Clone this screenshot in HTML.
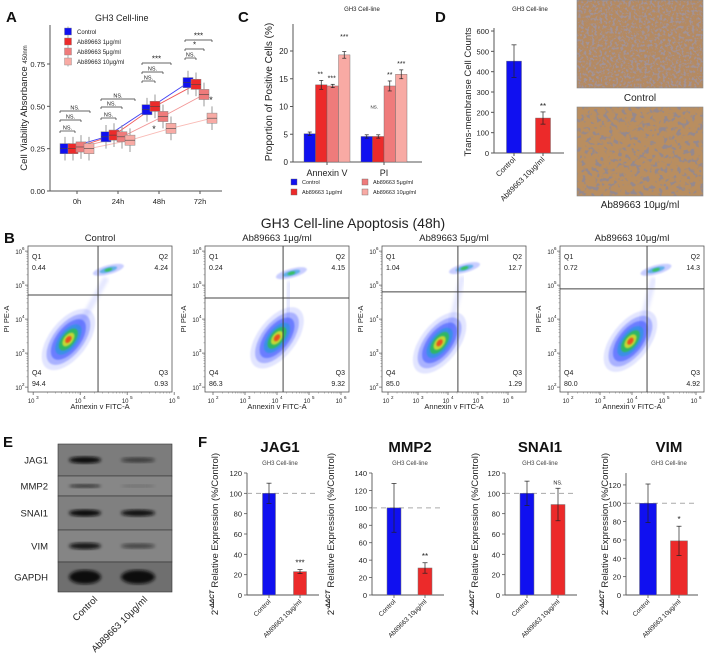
<!DOCTYPE html>
<html><head><meta charset="utf-8">
<style>
html,body{margin:0;padding:0;background:#fff;}
svg{display:block;font-family:"Liberation Sans",sans-serif;}
</style></head>
<body>
<svg id="fig" width="705" height="657" viewBox="0 0 705 657" xmlns="http://www.w3.org/2000/svg">
<defs>
<filter id="speck1" x="0" y="0" width="100%" height="100%">
<feTurbulence type="fractalNoise" baseFrequency="0.38" numOctaves="2" seed="3"/>
<feColorMatrix type="matrix" values="0 0 0 0 0.36  0 0 0 0 0.29  0 0 0 0 0.31  -6 0 0 0 3.1"/>
</filter>
<filter id="speck2" x="0" y="0" width="100%" height="100%">
<feTurbulence type="fractalNoise" baseFrequency="0.22" numOctaves="2" seed="7"/>
<feColorMatrix type="matrix" values="0 0 0 0 0.3  0 0 0 0 0.25  0 0 0 0 0.27  -7 0 0 0 3.3"/>
</filter>
<filter id="blur2"><feGaussianBlur stdDeviation="1.6"/></filter>
<filter id="blur1"><feGaussianBlur stdDeviation="0.8"/></filter>
</defs>
</svg>
<script>
// ---------- DATA ----------
const A_cats=['0h','24h','48h','72h'];
const A_series=['Control','Ab89663 1μg/ml','Ab89663 5μg/ml','Ab89663 10μg/ml'];
const A_ctrl=[0.25,0.32,0.48,0.64];
const A_ab1=[0.25,0.33,0.50,0.63];
const A_ab5=[0.26,0.32,0.44,0.57];
const A_ab10=[0.25,0.30,0.37,0.43];
const A_ticks=[0,0.25,0.5,0.75];
const A_tickLabels=['0.00','0.25','0.50','0.75'];

const C_groups=['Annexin V','PI'];
const C_ctrl=[5.1,4.6];
const C_ab1=[13.9,4.6];
const C_ab5=[13.7,13.7];
const C_ab10=[19.3,15.8];
const C_ctrlErr=[0.3,0.3];
const C_ab1Err=[0.8,0.3];
const C_ab5Err=[0.3,0.9];
const C_ab10Err=[0.6,0.8];
const C_ticks=[0,5,10,15,20];

const D_cats=['Control','Ab89663 10μg/ml'];
const D_vals=[452,172];
const D_errs=[80,30];
const D_ticks=[0,100,200,300,400,500,600];

const B_titles=['Control','Ab89663 1μg/ml','Ab89663 5μg/ml','Ab89663 10μg/ml'];
const B_q1=['0.44','0.24','1.04','0.72'];
const B_q2=['4.24','4.15','12.7','14.3'];
const B_q3=['0.93','9.32','1.29','4.92'];
const B_q4=['94.4','86.3','85.0','80.0'];
const B_gateX=[4.38,4.19,4.33,4.47];
const B_gateY=[4.71,4.62,4.80,4.89];
const B_mainX=[3.75,4.0,3.72,3.95];
const B_mainY=[3.4,3.45,3.3,3.35];
const B_q2X=[4.6,4.45,4.55,4.75];
const B_q2Y=[5.45,5.35,5.5,5.45];

const E_proteins=['JAG1','MMP2','SNAI1','VIM','GAPDH'];
const E_ctrlInt=[1.0,0.7,1.0,0.9,1.0];
const E_treatInt=[0.55,0.2,0.95,0.5,1.0];

const F_genes=['JAG1','MMP2','SNAI1','VIM'];
const F_ctrl=[100,100,100,100];
const F_ctrlErr=[10,28,12,21];
const F_treat=[23,31,89,59];
const F_treatErr=[2,6,16,16];
const F_sig=['***','**','NS.','*'];
const F_yTop=[120,140,120,133];

// ---------- HELPERS ----------
const NS='http://www.w3.org/2000/svg';
const svg=document.getElementById('fig');
function mk(tag,attrs,parent){const e=document.createElementNS(NS,tag);for(const k in attrs)e.setAttribute(k,attrs[k]);(parent||svg).appendChild(e);return e;}
function tx(parent,x,y,s,size,opts){const e=mk('text',Object.assign({x:x,y:y,'font-size':size,fill:'#222'},opts||{}),parent);e.textContent=s;return e;}
function grp(name,parent){const g=mk('g',{},parent);return g;}
function line(p,x1,y1,x2,y2,st,w,extra){return mk('line',Object.assign({x1:x1,y1:y1,x2:x2,y2:y2,stroke:st||'#333','stroke-width':w||1},extra||{}),p);}
const COLS=['#1010f0','#ec2a2a','#ef7b7b','#f8aaa4'];

[['A',6,22],['C',238,22],['D',435,22],['B',4,243],['E',3,447],['F',198,447]].forEach(function(l){
  const t=tx(svg,l[1],l[2],l[0],15,{'font-weight':'bold',fill:'#111'});
  
  
});

// ---------- PANEL A ----------
(function(){
  const g=grp('panel-a-viability-chart');
  const yA=function(v){return 191-v/0.75*127;};
  const xA=function(i){return 77+i*41;};
  const offs=[-12,-4,4,12];
  const series=[A_ctrl,A_ab1,A_ab5,A_ab10];
  tx(g,95,21,'GH3 Cell-line',9,{'text-anchor':'start'});
  line(g,50,25,50,191,'#555',1);
  line(g,50,191,222,191,'#555',1);
  A_ticks.forEach(function(v,i){
    line(g,47,yA(v),50,yA(v),'#555',1);
    const t=tx(g,45,yA(v)+3,A_tickLabels[i],7.5,{'text-anchor':'end'});
    
  });
  A_cats.forEach(function(c,i){
    line(g,xA(i),191,xA(i),194,'#555',1);
    const t=tx(g,xA(i),204,c,7.5,{'text-anchor':'middle'});
    
  });
  const yl=tx(g,0,0,'Cell Viability Absorbance ',9.5,{transform:'translate(27,108) rotate(-90)','text-anchor':'middle'});
  const sub=mk('tspan',{'font-size':6,dy:0},yl);sub.textContent='450nm';
  
  series.forEach(function(s,k){
    const pts=s.map(function(v,i){return (xA(i)+offs[k])+','+yA(v);}).join(' ');
    const pl=mk('polyline',{points:pts,fill:'none',stroke:COLS[k],'stroke-width':0.9,opacity:0.8},g);
    
  });
  series.forEach(function(s,k){
    s.forEach(function(v,i){
      const cx=xA(i)+offs[k];
      line(g,cx,yA(v-0.07),cx,yA(v+0.07),'#999',1);
      const r=mk('rect',{x:cx-5,y:yA(v+0.03),width:10,height:yA(v-0.03)-yA(v+0.03),fill:COLS[k],stroke:'#888','stroke-width':0.5},g);
      
      line(g,cx-5,yA(v),cx+5,yA(v),'#444',0.6);
    });
  });
  function br(x1,x2,y,lab){
    line(g,x1,y,x2,y,'#333',0.7);line(g,x1,y,x1,y+2,'#333',0.7);line(g,x2,y,x2,y+2,'#333',0.7);
    tx(g,(x1+x2)/2,y-1.5,lab,lab.indexOf('*')>=0?8:5.5,{'text-anchor':'middle'});
  }
  const c0=xA(0)-17;
  br(c0,xA(0)-2,131,'NS.');br(c0,xA(0)+4,120,'NS.');br(c0,xA(0)+13,111,'NS.');
  br(xA(1)-17,xA(1)-2,118,'NS.');br(xA(1)-17,xA(1)+4,107,'NS.');br(xA(1)-17,xA(1)+17,99,'NS.');
  br(xA(2)-17,xA(2)-4,81,'NS.');br(xA(2)-17,xA(2)+4,72,'NS.');br(xA(2)-17,xA(2)+12,63,'***');
  br(xA(3)-15,xA(3)-4,58,'NS.');br(xA(3)-15,xA(3)+4,49,'*');br(xA(3)-15,xA(3)+12,40,'***');
  tx(g,xA(2)-5,132,'*',9,{'text-anchor':'middle'});
  tx(g,xA(3)+11,103,'*',9,{'text-anchor':'middle'});
  const lg=grp('panel-a-legend',g);
  A_series.forEach(function(n,k){
    const y=31.5+k*10;
    line(lg,68,y-5,68,y+5,'#999',0.8);
    const r=mk('rect',{x:64.5,y:y-3.5,width:7,height:7,fill:COLS[k],stroke:'#888','stroke-width':0.4},lg);
    
    const t=tx(lg,77,y+2.3,n,6);
    
  });
})();

// ---------- PANEL C ----------
(function(){
  const g=grp('panel-c-apoptosis-bars');
  const yC=function(v){return 162-v*5.55;};
  const gx=[327,384];
  const bw=11.5;
  const vals=[C_ctrl,C_ab1,C_ab5,C_ab10];
  const errs=[C_ctrlErr,C_ab1Err,C_ab5Err,C_ab10Err];
  tx(g,362,11,'GH3 Cell-line',6,{'text-anchor':'middle'});
  line(g,293,24,293,162,'#555',1);
  line(g,293,162,422,162,'#555',1);
  C_ticks.forEach(function(v){
    line(g,290,yC(v),293,yC(v),'#555',1);
    const t=tx(g,288,yC(v)+3,String(v),8,{'text-anchor':'end'});
    
  });
  const yl=tx(g,0,0,'Proportion of Positive Cells (%)',10,{transform:'translate(272,92) rotate(-90)','text-anchor':'middle'});
  
  C_groups.forEach(function(n,i){
    line(g,gx[i],162,gx[i],165,'#555',1);
    const t=tx(g,gx[i],176,n,9,{'text-anchor':'middle'});
    
    vals.forEach(function(s,k){
      const x=gx[i]+(k-2)*bw;
      const r=mk('rect',{x:x,y:yC(s[i]),width:bw,height:yC(0)-yC(s[i]),fill:COLS[k],stroke:'#666','stroke-width':0.4},g);
      
      const cx=x+bw/2,e=errs[k][i];
      line(g,cx,yC(s[i]-e),cx,yC(s[i]+e),'#222',0.7);
      line(g,cx-2,yC(s[i]-e),cx+2,yC(s[i]-e),'#222',0.7);
      line(g,cx-2,yC(s[i]+e),cx+2,yC(s[i]+e),'#222',0.7);
    });
  });
  function star(x,v,s,sz){tx(g,x,yC(v)-4,s,sz||7,{'text-anchor':'middle'});}
  star(gx[0]-bw/2-1,C_ab1[0]+C_ab1Err[0],'**');
  star(gx[0]+bw/2-1,C_ab5[0]+C_ab5Err[0],'***');
  star(gx[0]+bw*1.5,C_ab10[0]+C_ab10Err[0]+1.5,'***');
  star(gx[1]-bw/2-4,C_ab1[1]+C_ab1Err[1]+4,'NS.',4.5);
  star(gx[1]+bw/2,C_ab5[1]+C_ab5Err[1],'**');
  star(gx[1]+bw*1.5,C_ab10[1]+C_ab10Err[1],'***');
  const lg=grp('panel-c-legend',g);
  const lp=[[291,184],[291,194],[362,184],[362,194]];
  A_series.forEach(function(n,k){
    const r=mk('rect',{x:lp[k][0],y:lp[k][1]-5,width:6,height:6,fill:COLS[k],stroke:'#666','stroke-width':0.4},lg);
    
    const t=tx(lg,lp[k][0]+11,lp[k][1],n,5.5);
    
  });
})();

// ---------- PANEL D ----------
(function(){
  const g=grp('panel-d-migration-bars');
  const yD=function(v){return 153-v*0.2033;};
  const bx=[514,543];
  tx(g,530,11,'GH3 Cell-line',6,{'text-anchor':'middle'});
  line(g,494,28,494,153,'#555',1);
  line(g,494,153,564,153,'#555',1);
  D_ticks.forEach(function(v){
    line(g,491,yD(v),494,yD(v),'#555',1);
    const t=tx(g,489,yD(v)+3,String(v),7.5,{'text-anchor':'end'});
    
  });
  const yl=tx(g,0,0,'Trans-membranse Cell Counts',9.5,{transform:'translate(471,92) rotate(-90)','text-anchor':'middle'});
  
  D_cats.forEach(function(n,i){
    const r=mk('rect',{x:bx[i]-7.5,y:yD(D_vals[i]),width:15,height:yD(0)-yD(D_vals[i]),fill:COLS[i],stroke:'#666','stroke-width':0.4},g);
    
    const e=D_errs[i];
    line(g,bx[i],yD(D_vals[i]-e),bx[i],yD(D_vals[i]+e),'#222',0.7);
    line(g,bx[i]-2.5,yD(D_vals[i]-e),bx[i]+2.5,yD(D_vals[i]-e),'#222',0.7);
    line(g,bx[i]-2.5,yD(D_vals[i]+e),bx[i]+2.5,yD(D_vals[i]+e),'#222',0.7);
    line(g,bx[i],153,bx[i],156,'#555',1);
    const t=tx(g,0,0,n,7.5,{transform:'translate('+(bx[i]+2)+',160) rotate(-45)','text-anchor':'end'});
    
  });
  tx(g,bx[1],yD(D_vals[1]+D_errs[1])-3,'**',8,{'text-anchor':'middle'});
  const p1=grp('photo-control',g);
  mk('rect',{x:577,y:0,width:126,height:88,fill:'#b48a62'},p1);
  mk('rect',{x:577,y:0,width:126,height:88,filter:'url(#speck1)'},p1);
  mk('rect',{x:577,y:0,width:126,height:88,fill:'none',stroke:'#888','stroke-width':0.6},p1);
  tx(g,640,101,'Control',10,{'text-anchor':'middle'});
  const p2=grp('photo-treatment',g);
  mk('rect',{x:577,y:107,width:126,height:89,fill:'#b98e60'},p2);
  mk('rect',{x:577,y:107,width:126,height:89,filter:'url(#speck2)'},p2);
  mk('rect',{x:577,y:107,width:126,height:89,fill:'none',stroke:'#888','stroke-width':0.6},p2);
  tx(g,640,208,'Ab89663 10μg/ml',10,{'text-anchor':'middle'});
})();

// ---------- PANEL B ----------
(function(){
  const g=grp('panel-b-flow-cytometry',svg);
  tx(g,353,228,'GH3 Cell-line Apoptosis (48h)',14,{'text-anchor':'middle'});
  const boxX=[28,205,382,560];
  const boxW=144, top=246, bot=392;
  const xLo=[2.89,1.75,1.8,1.75];
  const xPer=[47,32,30,32];
  const yHi=6.15, yPer=34;
  const xTick0=[3,2,2,2];
  B_titles.forEach(function(title,p){
    const pg=grp('flow-plot-'+p,g);
    const X=function(l){return boxX[p]+(l-xLo[p])*xPer[p];};
    const Y=function(l){return top+(yHi-l)*yPer;};
    tx(pg,boxX[p]+boxW/2,241,title,9.5,{'text-anchor':'middle'});
    const cx=X(B_mainX[p]),cy=Y(B_mainY[p]);
    const layers=[[36,19,'#4455ff',0.15],[30,15,'#2a3cff',0.3],[24,12,'#2040ff',0.45],[18,9,'#1a9bd8',0.6],[13,6.5,'#2bc43a',0.75],[8,4.5,'#e6e02a',0.8],[4,2.5,'#ee3a1c',0.85]];
    layers.forEach(function(L){
      const e=mk('ellipse',{cx:cx,cy:cy,rx:L[0],ry:L[1],fill:L[2],opacity:L[3],transform:'rotate(-52 '+cx+' '+cy+')',filter:'url(#blur1)'},pg);
      
    });
    const qx=X(B_q2X[p]),qy=Y(B_q2Y[p]);
    [[16,4.5,'#2a3cff',0.25],[9,2.5,'#1a9bd8',0.6],[4,1.6,'#2bc43a',0.8]].forEach(function(L){
      const e=mk('ellipse',{cx:qx,cy:qy,rx:L[0],ry:L[1],fill:L[2],opacity:L[3],transform:'rotate(-15 '+qx+' '+qy+')',filter:'url(#blur1)'},pg);
      
    });
    const tail=mk('line',{x1:cx+10,y1:cy-12,x2:qx-2,y2:qy+8,stroke:'#4a5cff','stroke-width':6,opacity:0.14,filter:'url(#blur2)'},pg);
    
    mk('rect',{x:boxX[p],y:top,width:boxW,height:bot-top,fill:'none',stroke:'#555','stroke-width':0.8},pg);
    const gv=line(pg,X(B_gateX[p]),top,X(B_gateX[p]),bot,'#444',1);
    
    const gh=line(pg,boxX[p],Y(B_gateY[p]),boxX[p]+boxW,Y(B_gateY[p]),'#444',1);
    
    const L=boxX[p]+4,R=boxX[p]+boxW-4;
    tx(pg,L,259,'Q1',7);tx(pg,L,270,B_q1[p],7);
    tx(pg,R,259,'Q2',7,{'text-anchor':'end'});tx(pg,R,270,B_q2[p],7,{'text-anchor':'end'});
    tx(pg,L,375,'Q4',7);tx(pg,L,386,B_q4[p],7);
    tx(pg,R,375,'Q3',7,{'text-anchor':'end'});tx(pg,R,386,B_q3[p],7,{'text-anchor':'end'});
    for(let d=2;d<=6;d++){
      line(pg,boxX[p]-3,Y(d),boxX[p],Y(d),'#555',0.7);
      const t=tx(pg,boxX[p]-6,Y(d)+3,'10',6,{'text-anchor':'end'});
      const s=tx(pg,boxX[p]-6,Y(d)-1,String(d),4.5,{});
      
      
      for(let m=2;m<10&&d<6;m++){const yy=Y(d+Math.log10(m));line(pg,boxX[p]-1.5,yy,boxX[p],yy,'#777',0.5);}
    }
    for(let d=xTick0[p];d<=6;d++){
      line(pg,X(d),bot,X(d),bot+3,'#555',0.7);
      const t=tx(pg,X(d)-2,bot+11,'10',6,{'text-anchor':'middle'});
      const s=tx(pg,X(d)+3,bot+7,String(d),4.5,{});
      
      
      for(let m=2;m<10&&d<6;m++){const xx=X(d+Math.log10(m));if(xx<boxX[p]+boxW)line(pg,xx,bot,xx,bot+1.5,'#777',0.5);}
    }
    const xl=tx(pg,boxX[p]+boxW/2,409,'Annexin v FITC-A',7.5,{'text-anchor':'middle'});
    
    const yl=tx(pg,0,0,'PI PE-A',7.5,{transform:'translate('+(boxX[p]-19)+','+((top+bot)/2)+') rotate(-90)','text-anchor':'middle'});
    
  });
})();

// ---------- PANEL E ----------
(function(){
  const g=grp('panel-e-western-blot');
  const rows=[[444,476],[476,496],[496,530],[530,562],[562,592]];
  const bg=['#7c7c7c','#878787','#808080','#858585','#6f6f6f'];
  const laneX=[85,138];
  E_proteins.forEach(function(n,i){
    const r=rows[i];
    mk('rect',{x:58,y:r[0],width:114,height:r[1]-r[0],fill:bg[i],stroke:'#333','stroke-width':0.6},g);
    const lab=tx(g,48,(r[0]+r[1])/2+3.5,n,9.5,{'text-anchor':'end'});
    
    const h=i===4?14:(i===1?4:7);
    const c=mk('ellipse',{cx:laneX[0],cy:(r[0]+r[1])/2,rx:16,ry:h/2*(0.6+0.4*E_ctrlInt[i]),fill:'#111',opacity:E_ctrlInt[i],filter:'url(#blur2)'},g);
    
    const t=mk('ellipse',{cx:laneX[1],cy:(r[0]+r[1])/2,rx:17,ry:h/2*(0.6+0.4*E_treatInt[i]),fill:'#111',opacity:E_treatInt[i],filter:'url(#blur2)'},g);
    
  });
  const l1=tx(g,0,0,'Control',9.5,{transform:'translate(98,600) rotate(-45)','text-anchor':'end'});
  
  const l2=tx(g,0,0,'Ab89663 10μg/ml',9.5,{transform:'translate(148,600) rotate(-45)','text-anchor':'end'});
  
})();

// ---------- PANEL F ----------
(function(){
  const axisX=[247,372,505,626];
  const ylabX=[218,334,478,608];
  const titleX=[280,410,540,669];
  const barW=[13,14,14,17];
  const y0=595, yTopPx=473;
  F_genes.forEach(function(gene,c){
    const g=grp('qpcr-chart-'+gene.toLowerCase());
    const k=(y0-yTopPx)/F_yTop[c];
    const Y=function(v){return y0-v*k;};
    const ax=axisX[c];
    const tt=tx(g,titleX[c],452,gene,15,{'text-anchor':'middle','font-weight':'bold',fill:'#111'});
    
    tx(g,titleX[c],465,'GH3 Cell-line',6,{'text-anchor':'middle',fill:'#444'});
    line(g,ax,yTopPx,ax,y0,'#555',0.9);
    line(g,ax,y0,ax+72,y0,'#555',0.9);
    for(let v=0;v<=F_yTop[c]+0.1;v+=20){
      line(g,ax-3,Y(v),ax,Y(v),'#555',0.8);
      const t=tx(g,ax-5,Y(v)+3,String(v),7.5,{'text-anchor':'end'});
      
    }
    const dl=line(g,ax,Y(100),ax+72,Y(100),'#aaa',1,{'stroke-dasharray':'5,4'});
    
    const yl=mk('text',{transform:'translate('+ylabX[c]+',534) rotate(-90)','text-anchor':'middle','font-size':9.5,fill:'#222'},g);
    
    const s1=mk('tspan',{},yl);s1.textContent='2';
    const s2=mk('tspan',{dy:-4,'font-size':6.5,'font-weight':'bold','font-style':'italic'},yl);s2.textContent='-ΔΔCT';
    const s3=mk('tspan',{dy:4},yl);s3.textContent=' Relative Expression (%/Control)';
    const vals=[F_ctrl[c],F_treat[c]], errs=[F_ctrlErr[c],F_treatErr[c]];
    const cxs=[ax+22,ax+53];
    const names=['Control','Ab89663 10μg/ml'];
    vals.forEach(function(v,i){
      const b=mk('rect',{x:cxs[i]-barW[c]/2,y:Y(v),width:barW[c],height:Y(0)-Y(v),fill:COLS[i],stroke:'#777','stroke-width':0.5},g);
      
      line(g,cxs[i],Y(v-errs[i]),cxs[i],Y(v+errs[i]),'#222',0.7);
      line(g,cxs[i]-2.5,Y(v-errs[i]),cxs[i]+2.5,Y(v-errs[i]),'#222',0.7);
      line(g,cxs[i]-2.5,Y(v+errs[i]),cxs[i]+2.5,Y(v+errs[i]),'#222',0.7);
      line(g,cxs[i],y0,cxs[i],y0+3,'#555',0.8);
      const t=tx(g,0,0,names[i],6.5,{transform:'translate('+(cxs[i]+2)+','+(y0+7)+') rotate(-45)','text-anchor':'end'});
      
    });
    const sig=F_sig[c];
    const st=tx(g,cxs[1],Y(vals[1]+errs[1])-4,sig,sig==='NS.'?5.5:8,{'text-anchor':'middle'});
    
  });
})();
</script>
</body></html>
